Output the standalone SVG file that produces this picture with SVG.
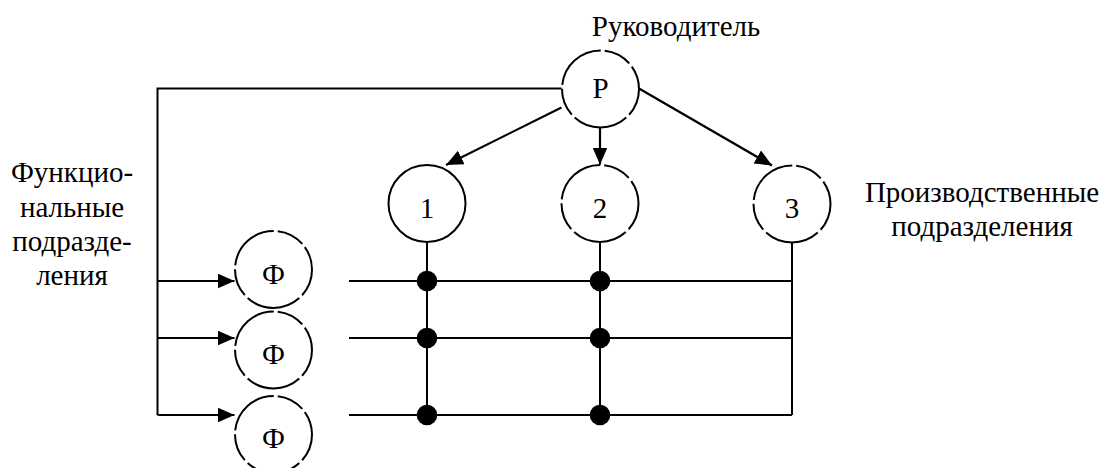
<svg xmlns="http://www.w3.org/2000/svg" width="1105" height="468" viewBox="0 0 1105 468">
<defs>
<marker id="ah" markerUnits="userSpaceOnUse" markerWidth="18" markerHeight="16" refX="17" refY="7.5" orient="auto">
<path d="M0,0 L17,7.5 L0,15 Z" fill="#000"/>
</marker>
<style>
.t{font-family:"Liberation Serif","DejaVu Serif","Times New Roman",serif;font-size:29px;fill:#000;text-anchor:middle}
.n{fill:#fff;stroke:#000;stroke-width:2}
.g{stroke-dasharray:28.2 4 56.5 4}
.c{fill:none;stroke:#000;stroke-width:2}
.a{fill:none;stroke:#000;stroke-width:2.2;marker-end:url(#ah)}
.d{fill:#000}
</style>
</defs>
<rect width="1105" height="468" fill="#fff"/>
<g id="connectors">
<polyline class="c" points="561.5,88.5 157.5,88.5 157.5,415"/>
<line class="a" x1="561.5" y1="107.5" x2="446" y2="165"/>
<line class="a" x1="600" y1="128" x2="600" y2="164.5"/>
<line class="a" x1="639" y1="88.5" x2="772" y2="165.5"/>
<line class="a" x1="157.5" y1="281" x2="234.5" y2="281"/>
<line class="a" x1="157.5" y1="338" x2="234.5" y2="338"/>
<line class="a" x1="157.5" y1="415" x2="234.5" y2="415"/>
<line class="c" x1="349" y1="281" x2="792" y2="281"/>
<line class="c" x1="349" y1="338" x2="792" y2="338"/>
<line class="c" x1="349" y1="415" x2="792" y2="415"/>
<line class="c" x1="427" y1="242" x2="427" y2="415"/>
<line class="c" x1="600" y1="242" x2="600" y2="415"/>
<line class="c" x1="792" y1="242" x2="792" y2="415"/>
<circle class="d" cx="427" cy="281" r="10.3"/>
<circle class="d" cx="427" cy="338" r="10.3"/>
<circle class="d" cx="427" cy="415" r="10.3"/>
<circle class="d" cx="600" cy="281" r="10.3"/>
<circle class="d" cx="600" cy="338" r="10.3"/>
<circle class="d" cx="600" cy="415" r="10.3"/>
</g>
<g id="node-head">
<circle class="n g" cx="600.5" cy="89" r="38.5"/>
<text class="t" font-family="'Liberation Serif', 'DejaVu Serif', serif" x="600.5" y="98">Р</text>
</g>
<g id="node-1">
<circle class="n" cx="427" cy="203.5" r="38.5"/>
<text class="t" font-family="'Liberation Serif', 'DejaVu Serif', serif" x="427" y="218">1</text>
</g>
<g id="node-2">
<circle class="n g" cx="600" cy="203.5" r="38.5"/>
<text class="t" font-family="'Liberation Serif', 'DejaVu Serif', serif" x="600" y="218">2</text>
</g>
<g id="node-3">
<circle class="n g" cx="792" cy="204" r="38.5"/>
<text class="t" font-family="'Liberation Serif', 'DejaVu Serif', serif" x="792" y="218">3</text>
</g>
<g id="node-f1">
<circle class="n g" cx="273.5" cy="269.5" r="38.5"/>
<text class="t" font-family="'Liberation Serif', 'DejaVu Serif', serif" x="273.5" y="284">Ф</text>
</g>
<g id="node-f2">
<circle class="n g" cx="273.5" cy="350" r="38.5"/>
<text class="t" font-family="'Liberation Serif', 'DejaVu Serif', serif" x="273.5" y="363.5">Ф</text>
</g>
<g id="node-f3">
<circle class="n g" cx="273.5" cy="434.5" r="38.5"/>
<text class="t" font-family="'Liberation Serif', 'DejaVu Serif', serif" x="273.5" y="448">Ф</text>
</g>
<g id="labels" font-family="'Liberation Serif', 'DejaVu Serif', serif">
<text class="t" x="676" y="36">Руководитель</text>
<text class="t" x="72" y="182">Функцио-</text>
<text class="t" x="72" y="216.5">нальные</text>
<text class="t" x="72" y="251">подразде-</text>
<text class="t" x="72" y="285">ления</text>
<text class="t" x="982" y="202">Производственные</text>
<text class="t" x="982" y="236">подразделения</text>
</g>
</svg>
